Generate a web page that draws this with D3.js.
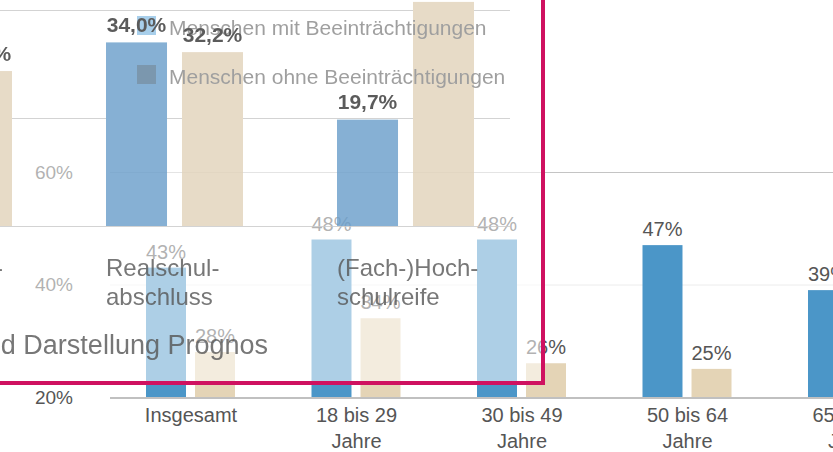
<!DOCTYPE html>
<html>
<head>
<meta charset="utf-8">
<script src="https://cdn.jsdelivr.net/npm/d3@7"></script>
<style>
  body { margin: 0; background: #fff; }
  svg { display: block; }
</style>
</head>
<body>
<div id="chart"></div>
<script>
// Hintergrund-Diagramm: Altersgruppen (Werte in %)
const ageGroups = ["Insgesamt", "18 bis 29|Jahre", "30 bis 49|Jahre", "50 bis 64|Jahre", "65 bis 79|Jahre"];
const ageMit = [43, 48, 48, 47, 39];
const ageOhne = [28, 34, 26, 25, 22];
const ageTicks = [40, 60];

// eingeblendetes Diagramm: Schulabschluss (Werte in %)
const eduGroups = ["Hauptschul-|abschluss", "Realschul-|abschluss", "(Fach-)Hoch-|schulreife"];
const eduMit = [27.5, 34.0, 19.7];
const eduOhne = [28.7, 32.2, 41.5];
const eduTicks = [0, 20, 40];
const legendLabels = ["Menschen mit Beeinträchtigungen", "Menschen ohne Beeinträchtigungen"];
const sourceText = "Quelle: Mikrozensus, Berechnung und Darstellung Prognos";

const seriesKeys = ["mit", "ohne"];
const fmtDe = d3.formatLocale({decimal: ",", thousands: ".", grouping: [3], currency: ["", " €"]}).format(".1f");

const W = 833, H = 452;
const svg = d3.select("#chart").append("svg")
    .attr("width", W)
    .attr("height", H)
    .style("font-family", '"Liberation Sans", Arial, sans-serif');

// ---------- Hintergrund ----------
const bg = svg.append("g");

const x0 = d3.scaleBand()
    .domain(ageGroups)
    .range([108.25, 108.25 + 165.5 * ageGroups.length]);

const x1 = d3.scaleBand()
    .domain(seriesKeys)
    .range([37.75, 126.75])
    .paddingInner(0.184);

const y = d3.scaleLinear().domain([20, 60]).range([397, 172]);

// Gitterlinien + Achsenbeschriftung
bg.append("g")
    .attr("transform", "translate(110,0)")
    .call(d3.axisLeft(y).tickValues([20].concat(ageTicks)).tickSize(-(W - 110)).tickPadding(37).tickFormat(d => d + "%"))
    .call(g => g.select(".domain").remove())
    .call(g => g.attr("font-family", null))
    .call(g => g.selectAll(".tick line")
        .attr("stroke", d => d === 40 ? "#ececec" : "#c4c4c4")
        .attr("stroke-opacity", d => d === 20 ? 0 : 1))
    .call(g => g.selectAll(".tick text").attr("fill", "#555").attr("font-size", 19));

const bgColors = {mit: "#4b96c8", ohne: "#e4d4b6"};
const ageRows = ageGroups.map((g, i) => ({
    group: g,
    values: [{key: "mit", v: ageMit[i]}, {key: "ohne", v: ageOhne[i]}]
}));

const ageG = bg.selectAll(".age").data(ageRows).join("g")
    .attr("class", "age")
    .attr("transform", d => `translate(${x0(d.group)},0)`);

ageG.selectAll("rect").data(d => d.values).join("rect")
    .attr("x", d => x1(d.key))
    .attr("width", x1.bandwidth())
    .attr("y", d => y(d.v))
    .attr("height", d => y(20) - y(d.v))
    .attr("fill", d => bgColors[d.key]);

ageG.selectAll("text.val").data(d => d.values).join("text")
    .attr("class", "val")
    .attr("x", d => x1(d.key) + x1.bandwidth() / 2)
    .attr("y", d => y(d.v) - 9)
    .attr("text-anchor", "middle")
    .attr("font-size", 20)
    .attr("fill", "#555")
    .text(d => d.v + "%");

// Grundlinie
bg.append("line")
    .attr("x1", 110).attr("x2", W)
    .attr("y1", y(20) + 1).attr("y2", y(20) + 1)
    .attr("stroke", "#c0c0c0")
    .attr("stroke-width", 2);

// Kategorien
const catText = bg.selectAll(".cat").data(ageGroups).join("text")
    .attr("class", "cat")
    .attr("text-anchor", "middle")
    .attr("font-size", 20)
    .attr("fill", "#555");
catText.selectAll("tspan").data(d => d.split("|").map(s => ({s, c: d}))).join("tspan")
    .attr("x", d => x0(d.c) + x0.bandwidth() / 2)
    .attr("y", (d, i) => 422 + i * 26)
    .text(d => d.s);

// ---------- Überblendung ----------
const frame = {x: -10, y: -10, w: 553, h: 393};

svg.append("rect")
    .attr("x", frame.x).attr("y", frame.y)
    .attr("width", frame.w).attr("height", frame.h)
    .attr("fill", "#fff")
    .attr("opacity", 0.55);

svg.append("clipPath").attr("id", "frameClip")
  .append("rect")
    .attr("x", frame.x).attr("y", frame.y)
    .attr("width", frame.w).attr("height", frame.h);

const edu = svg.append("g")
    .attr("opacity", 0.8)
    .attr("clip-path", "url(#frameClip)");

const xe0 = d3.scaleBand()
    .domain(eduGroups)
    .range([-142, -142 + 231 * eduGroups.length]);

const xe1 = d3.scaleBand()
    .domain(seriesKeys)
    .range([17, 154])
    .paddingInner(0.197);

const ye = d3.scaleLinear().domain([0, 40]).range([226, 10]);

edu.append("g")
    .call(d3.axisLeft(ye).tickValues(eduTicks).tickSize(-510).tickFormat(""))
    .call(g => g.select(".domain").remove())
    .call(g => g.selectAll(".tick line").attr("stroke", "#c8c8c8"));

const eduColors = {mit: "#689dca", ohne: "#e2d3ba"};
const eduRows = eduGroups.map((g, i) => ({
    group: g,
    values: [{key: "mit", v: eduMit[i]}, {key: "ohne", v: eduOhne[i]}]
}));

const eduG = edu.selectAll(".edu").data(eduRows).join("g")
    .attr("class", "edu")
    .attr("transform", d => `translate(${xe0(d.group)},0)`);

eduG.selectAll("rect").data(d => d.values).join("rect")
    .attr("x", d => xe1(d.key))
    .attr("width", xe1.bandwidth())
    .attr("y", d => ye(d.v))
    .attr("height", d => ye(0) - ye(d.v))
    .attr("fill", d => eduColors[d.key]);

// Legende
const legendColors = ["#93c4e7", "#5a7e9a"];
const legend = edu.selectAll(".legend").data(legendLabels).join("g")
    .attr("class", "legend")
    .attr("transform", (d, i) => `translate(137,${16 + i * 49})`);
legend.append("rect")
    .attr("width", 19).attr("height", 19)
    .attr("fill", (d, i) => legendColors[i]);
legend.append("text")
    .attr("x", 32).attr("y", 19)
    .attr("font-size", 21)
    .attr("fill", "#888")
    .text(d => d);

// Werte über der Legende
const eduLab = edu.selectAll(".elab").data(eduRows).join("g")
    .attr("class", "elab")
    .attr("transform", d => `translate(${xe0(d.group)},0)`);

eduLab.selectAll("text").data(d => d.values).join("text")
    .attr("x", d => xe1(d.key) + xe1.bandwidth() / 2)
    .attr("y", d => ye(d.v) - 10.5)
    .attr("text-anchor", "middle")
    .attr("font-size", 21)
    .attr("font-weight", "bold")
    .attr("fill", "#333")
    .text(d => fmtDe(d.v) + "%");

const eduCat = edu.selectAll(".ecat").data(eduGroups).join("text")
    .attr("class", "ecat")
    .attr("font-size", 24)
    .attr("fill", "#555");
eduCat.selectAll("tspan").data(d => d.split("|").map(s => ({s, c: d}))).join("tspan")
    .attr("x", d => xe0(d.c) + xe1.range()[0])
    .attr("y", (d, i) => 276 + i * 29)
    .text(d => d.s);

edu.append("text")
    .attr("x", 268).attr("y", 354)
    .attr("text-anchor", "end")
    .attr("font-size", 27)
    .attr("fill", "#555")
    .text(sourceText);

// Rahmen
svg.append("rect")
    .attr("x", frame.x).attr("y", frame.y)
    .attr("width", frame.w).attr("height", frame.h)
    .attr("fill", "none")
    .attr("stroke", "#cf1160")
    .attr("stroke-width", 4);
</script>
</body>
</html>
